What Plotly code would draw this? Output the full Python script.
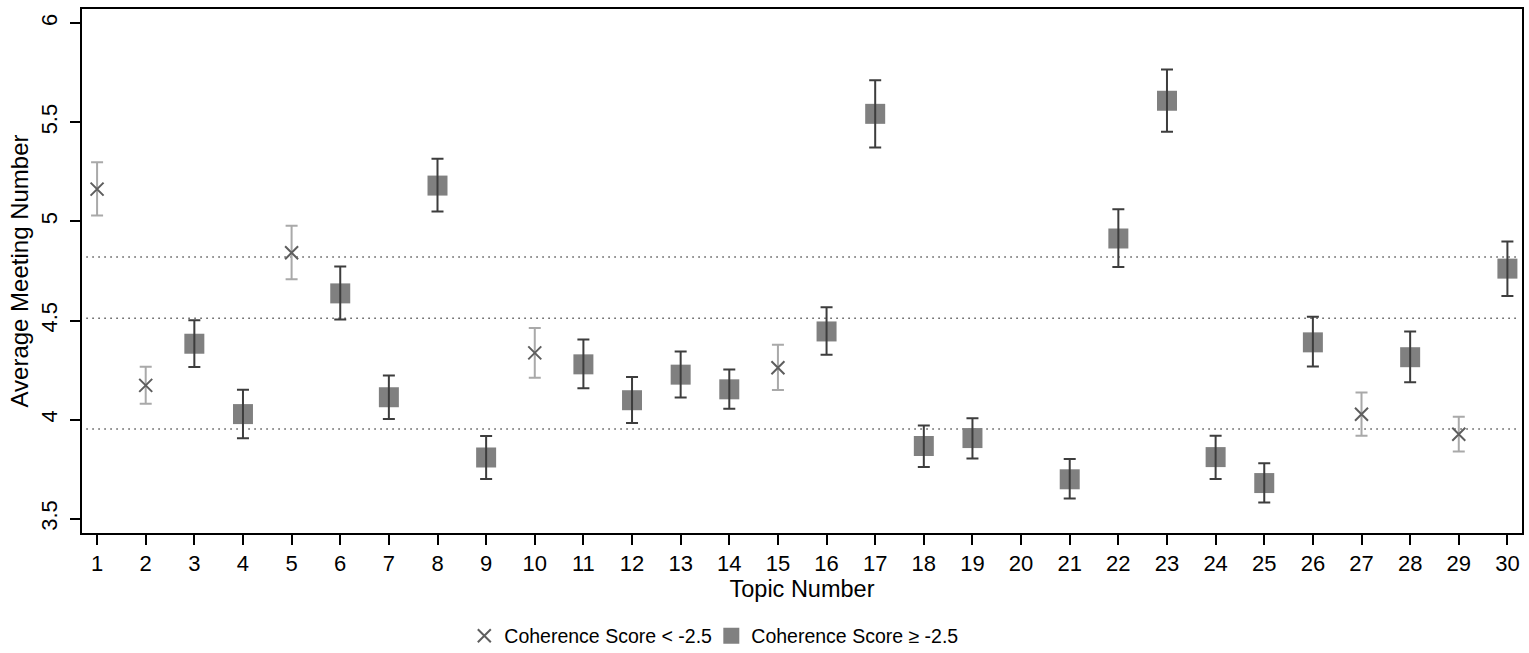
import plotly.graph_objects as go

# ---------------- data ----------------
topics = list(range(1, 31))
means = [5.163, 4.173, 4.383, 4.028, 4.842, 4.637, 4.113, 5.181, 3.809, 4.337,
         4.279, 4.098, 4.227, 4.153, 4.262, 4.445, 5.543, 3.867, 3.907, None,
         3.699, 4.914, 5.609, 3.811, 3.680, 4.390, 4.027, 4.315, 3.926, 4.762]
ci_upper = [5.299, 4.267, 4.502, 4.151, 4.978, 4.773, 4.223, 5.316, 3.917, 4.463,
            4.404, 4.215, 4.344, 4.253, 4.378, 4.567, 5.713, 3.970, 4.007, None,
            3.802, 5.061, 5.767, 3.919, 3.780, 4.519, 4.137, 4.445, 4.015, 4.899]
ci_lower = [5.030, 4.080, 4.265, 3.906, 4.708, 4.505, 4.003, 5.050, 3.701, 4.211,
            4.159, 3.983, 4.112, 4.055, 4.149, 4.327, 5.373, 3.761, 3.804, None,
            3.602, 4.770, 5.452, 3.701, 3.582, 4.268, 3.919, 4.189, 3.839, 4.624]
low_coherence_topics = [1, 2, 5, 10, 15, 27, 29]
ref_lines = [3.953, 4.512, 4.821]
y_ticks = [3.5, 4, 4.5, 5, 5.5, 6]
y_tick_labels = ["3.5", "4", "4.5", "5", "5.5", "6"]
legend_low = "Coherence Score < -2.5"
legend_high = "Coherence Score \u2265 -2.5"


def subset(low):
    xs, ys, up, dn = [], [], [], []
    for t, m, u, l in zip(topics, means, ci_upper, ci_lower):
        if m is None:
            continue
        if (t in low_coherence_topics) == low:
            xs.append(t)
            ys.append(m)
            up.append(u - m)
            dn.append(m - l)
    return xs, ys, up, dn


FONT = "Liberation Sans, Arial, sans-serif"
fig = go.Figure()

# low-coherence: crosses with light error bars
lx, ly, lup, ldn = subset(True)
fig.add_trace(go.Scatter(
    x=lx, y=ly, mode="markers", name=legend_low,
    marker=dict(symbol="x-thin-open", size=13, color="#5e5e5e",
                line=dict(width=2, color="#5e5e5e")),
    error_y=dict(type="data", array=lup, arrayminus=ldn, symmetric=False,
                 color="#a9a9a9", thickness=2, width=6),
))

# high-coherence: squares, then dark error bars drawn on top
hx, hy, hup, hdn = subset(False)
fig.add_trace(go.Scatter(
    x=hx, y=hy, mode="markers", name=legend_high,
    marker=dict(symbol="square", size=20, color="#808080", line=dict(width=0)),
))
fig.add_trace(go.Scatter(
    x=hx, y=hy, mode="markers", showlegend=False, hoverinfo="skip",
    marker=dict(size=1, color="rgba(0,0,0,0)"),
    error_y=dict(type="data", array=hup, arrayminus=hdn, symmetric=False,
                 color="#3d3d3d", thickness=2, width=6),
))

for v in ref_lines:
    fig.add_shape(type="line", xref="paper", yref="y", x0=0.003, x1=0.9975,
                  y0=v, y1=v, layer="below",
                  line=dict(color="#555555", width=1.5, dash="1.5px,4.5px"))

fig.update_layout(
    width=1529, height=653,
    margin=dict(l=82, r=7, t=9, b=120, autoexpand=False),
    paper_bgcolor="white", plot_bgcolor="white",
    font=dict(family=FONT, size=22, color="black"),
    showlegend=True,
    legend=dict(orientation="h", xref="paper", yref="container",
                x=0.2655, xanchor="left", y=0.026, yanchor="middle",
                font=dict(size=19.5), entrywidth=202, entrywidthmode="pixels",
                bgcolor="rgba(0,0,0,0)", traceorder="normal"),
    xaxis=dict(range=[0.69, 30.3], tickmode="array", tickvals=topics,
               ticktext=[str(t) for t in topics], ticks="outside", ticklen=10,
               tickwidth=2, tickcolor="black", showline=True, linewidth=2,
               linecolor="black", mirror=True, showgrid=False, zeroline=False,
               ticklabelstandoff=0, automargin=False,
               title=dict(text="Topic Number", standoff=5,
                          font=dict(size=23.5))),
    yaxis=dict(range=[3.428, 6.072], tickmode="array", tickvals=y_ticks,
               ticktext=y_tick_labels, tickangle=-90, ticks="outside", ticklen=10,
               tickwidth=2, tickcolor="black", showline=True, linewidth=2,
               linecolor="black", mirror=True, showgrid=False, zeroline=False,
               ticklabelstandoff=4, automargin=False,
               title=dict(text="Average Meeting Number", standoff=2,
                          font=dict(size=24))),
)

fig.write_html("out.html")
